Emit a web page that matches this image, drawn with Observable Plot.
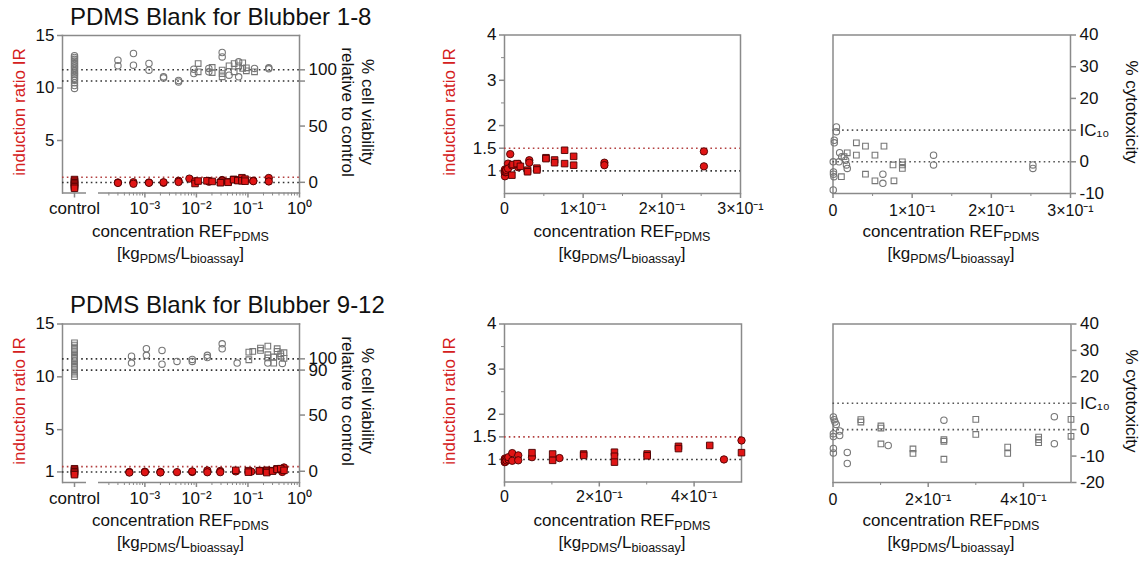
<!DOCTYPE html>
<html><head><meta charset="utf-8">
<script src="https://cdn.jsdelivr.net/npm/d3@7"></script>
<script src="https://cdn.jsdelivr.net/npm/@observablehq/plot@0.6"></script>
<style>
body{margin:0;background:#fff;}
#wrap{position:relative;width:1148px;height:566px;overflow:hidden;font-family:"Liberation Sans",Arial,sans-serif;color:#111;background:#fff;}
#wrap svg{position:absolute;left:0;top:0;}
.t{position:absolute;white-space:nowrap;line-height:1;}
.title{font-size:24px;}
.xl{font-size:17px;transform:translateX(-50%);}
.yl{font-size:17px;transform:translate(-50%,-50%) rotate(-90deg);color:#d42020;}
.yr{font-size:17px;transform:translate(-50%,-50%) rotate(90deg);text-align:center;line-height:20px;}
sub{font-size:12.5px;vertical-align:-4px;line-height:0;}
</style></head><body><div id="wrap"></div>
<script>
// ---------------- data ----------------
const ctrlCategory = ["control"];
// PDMS Blank for Blubber 1-8 (top row)
const topCtrlIR = [1.28, 1.12, 0.98, 0.85, 0.72, 0.58, 0.45];
const topCtrlViab = [112.5, 111, 109.3, 107.8, 106.2, 104.8, 103.2, 101.8, 100.3, 98.8, 97.2, 95.8, 94.2, 92.6, 90.8, 88.5, 86, 83.5];
const topIRcircles = [[0.0003,1.00],[0.0003,0.96],[0.0006,1.03],[0.0006,0.88],[0.0012,1.00],[0.0012,0.97],[0.0023,0.98],[0.0023,1.02],[0.0045,1.16],[0.0045,1.05],[0.0073,1.37],[0.0094,1.12],[0.0174,1.15],[0.0174,1.08],[0.0315,1.235],[0.0315,1.18],[0.127,1.18],[0.127,1.125],[0.2535,1.43],[0.2535,1.10]];
const topIRsquares = [[0.0094,0.905],[0.0108,1.14],[0.016,1.16],[0.0202,1.10],[0.0293,1.015],[0.0293,0.98],[0.0412,1.06],[0.0412,1.02],[0.0527,1.29],[0.0527,1.27],[0.0637,1.24],[0.0637,1.18],[0.0764,1.455],[0.0764,1.16],[0.0879,1.32],[0.0879,1.125]];
const topViabCircles = [[0.0003,108.5],[0.0003,103.6],[0.0006,114.5],[0.0006,104.1],[0.0012,105.6],[0.0012,99.7],[0.0023,93.8],[0.0023,92.8],[0.0045,90.5],[0.0045,89.2],[0.0089,100.5],[0.0089,96.7],[0.0174,101.2],[0.0174,98.2],[0.0316,115.4],[0.0316,111.5],[0.043,95.2],[0.066,107.1],[0.066,93.8],[0.134,101.2],[0.2535,101.8],[0.2535,100.9]];
const topViabSquares = [[0.0108,105.6],[0.0108,98.2],[0.0202,102.1],[0.0202,97.6],[0.0316,99.7],[0.0316,96.7],[0.0316,93.8],[0.043,103.6],[0.054,105.6],[0.054,98.2],[0.066,103.6],[0.079,106.2],[0.079,101.2],[0.093,101.8],[0.093,99.1],[0.134,98.2]];
const topCytoCircles = [[0.0003,0],[0.0003,-8.9],[0.0006,-3.2],[0.0006,-3.9],[0.0012,-4.7],[0.0016,6.8],[0.0016,6.0],[0.0043,11.0],[0.0043,9.5],[0.0076,0],[0.0084,2.85],[0.011,1.6],[0.016,0.5],[0.017,-1.0],[0.018,-2.1],[0.063,-3.9],[0.063,-6.8],[0.127,2.1],[0.127,-1.0],[0.2525,-1.0],[0.2525,-2.1]];
const topCytoSquares = [[0.0106,-4.7],[0.014,1.6],[0.018,2.85],[0.0295,6.0],[0.0295,2.1],[0.041,4.95],[0.041,-3.9],[0.053,2.1],[0.053,-6.0],[0.0644,4.95],[0.0758,-1.0],[0.077,-6.0],[0.0876,0.0],[0.0876,-1.0],[0.0876,-2.1]];
// PDMS Blank for Blubber 9-12 (bottom row)
const botCtrlIR = [1.3, 1.16, 1.02, 0.88, 0.74];
const botCtrlViab = [114.3, 112.2, 110.4, 108.3, 106.5, 104.2, 102.4, 100.3, 98.5, 96.2, 94.4, 92.3, 90.5, 88.2, 86.4, 84.1];
const botIRcircles = [[0.0005,1.00],[0.0005,0.94],[0.001,1.02],[0.001,0.97],[0.002,1.00],[0.002,0.95],[0.0042,0.98],[0.0083,1.00],[0.0083,1.05],[0.0163,1.14],[0.0163,0.97],[0.029,1.09],[0.029,0.98],[0.058,1.05],[0.116,1.03],[0.463,1.00],[0.5,1.42]];
const botIRsquares = [[0.058,1.15],[0.1016,1.12],[0.1016,0.98],[0.167,1.12],[0.167,1.09],[0.232,1.16],[0.232,1.07],[0.232,0.94],[0.301,1.12],[0.301,1.08],[0.367,1.29],[0.367,1.24],[0.433,1.31],[0.5,1.15]];
const botViabCircles = [[0.00055,102.4],[0.00055,96.2],[0.00107,109],[0.00107,103.1],[0.00215,107.5],[0.00215,95.3],[0.0042,97.7],[0.0083,99.5],[0.0083,97.7],[0.0163,103.1],[0.0163,101.1],[0.0316,113.4],[0.0316,109],[0.0617,96.2],[0.243,96.2],[0.465,95.9]];
const botViabSquares = [[0.104,106],[0.104,99.2],[0.124,106.6],[0.175,109.6],[0.175,107.5],[0.243,111.3],[0.243,103.7],[0.243,100.8],[0.316,101.7],[0.316,96.2],[0.369,109],[0.369,106.6],[0.433,104.5],[0.433,102.4],[0.5,105.5],[0.5,100.4]];
const botCytoCircles = [[0.0008,4.8],[0.0025,3.8],[0.0042,2.9],[0.0069,2.0],[0.014,-0.5],[0.014,-2.2],[0.0008,-1.5],[0.0008,-2.6],[0.0008,-7.1],[0.0008,-8.8],[0.030,-8.6],[0.030,-12.8],[0.116,-6.0],[0.233,3.6],[0.465,4.9],[0.465,-5.3]];
const botCytoSquares = [[0.0585,3.8],[0.0585,2.9],[0.1007,1.4],[0.1007,0.6],[0.1007,-5.4],[0.168,-7.3],[0.168,-9.0],[0.233,-3.8],[0.233,-4.4],[0.233,-11.2],[0.300,3.9],[0.300,-1.8],[0.367,-6.6],[0.367,-9.0],[0.432,-2.8],[0.432,-3.8],[0.432,-4.9],[0.5,3.9],[0.5,-2.5]];
// reference lines
const irLines = [1];          // black dotted
const irThreshold = [1.5];    // red dotted
const viabLines = [90, 100];
const cytoLines = [0, 10];
// ticks and tick labels
const logTicks = [1e-3, 1e-2, 1e-1, 1];
const logTickLabels = ["10⁻³", "10⁻²", "10⁻¹", "10⁰"];
const linTicksTop = [0, 0.1, 0.2, 0.3];
const linTickLabelsTop = ["0", "1×10⁻¹", "2×10⁻¹", "3×10⁻¹"];
const linMinorTop = [0.05, 0.15, 0.25];
const linTicksBot = [0, 0.2, 0.4];
const linTickLabelsBot = ["0", "2×10⁻¹", "4×10⁻¹"];
const linMinorBot = [0.1, 0.3];
const irTicksTop = [5, 10, 15];
const irTicksBot = [1, 5, 10, 15];
const viabTicksTop = [0, 50, 90, 100];
const viabTickLabelsTop = ["0", "50", "", "100"];
const viabTicksBot = [0, 50, 90, 100];
const viabTickLabelsBot = ["0", "50", "90", "100"];
const irZoomTicks = [1, 1.5, 2, 3, 4];
const irZoomTickLabels = ["1", "1.5", "2", "3", "4"];
const irZoomMinor = [2.5, 3.5];
const cytoTicksTop = [-10, 0, 10, 20, 30, 40];
const cytoTicksBot = [-20, -10, 0, 10, 20, 30, 40];
const cytoLabel = v => v === 10 ? "IC₁₀" : String(v);
const titles = ["PDMS Blank for Blubber 1-8", "PDMS Blank for Blubber 9-12"];

// ---------------- drawing ----------------
const W = 1148, H = 566;
const wrap = document.getElementById("wrap");
const GRAY = "#8a8a8a", PT = "#777", RED = "#e01515", REDS = "#4a0000", DOT = "#333", REDDOT = "#b34040";
const FONT = '"Liberation Sans", Arial, sans-serif';

function layer(box, opts) {
  const [l, r, t, b] = box;
  const svg = Plot.plot({
    width: W, height: H,
    marginLeft: l, marginRight: W - r, marginTop: t, marginBottom: H - b,
    style: {background: "transparent", fontFamily: FONT, fontSize: "16px", color: "#111", overflow: "visible"},
    ...opts
  });
  wrap.appendChild(svg);
}
const fmtMap = (ticks, labels) => { const m = new Map(ticks.map((t, i) => [t, labels[i]])); return d => m.get(d); };
const grayDots = (data, symbol) => Plot.dot(data, {x: d => d[0], y: d => d[1], symbol, r: 3.2, stroke: PT, strokeWidth: 1.1, fill: "none"});
const redDots = (data, symbol) => Plot.dot(data, {x: d => d[0], y: d => d[1], symbol, r: 3.7, fill: RED, stroke: REDS, strokeWidth: 0.9});
const dotted = (vals, color) => Plot.ruleY(vals, {stroke: color, strokeWidth: 1.6, strokeDasharray: "1.6,3.2"});

const logMinor = [];
for (let e = -4; e <= -1; e++) for (let k = 2; k <= 9; k++) { const v = k * Math.pow(10, e); if (v > Math.pow(10, -3.9)) logMinor.push(v); }

function logPanel(row) {
  const isTop = row === 0;
  const t = isTop ? 35 : 323.5, b = isTop ? 192.5 : 482;
  const full = [62, 299, t, b], ctrl = [62, 86, t, b], lg = [98, 299, t, b];
  const irY = {domain: [0, 15]};
  const viabY = {domain: isTop ? [-9.5, 130.5] : [-10, 131]};
  const logX = {type: "log", domain: [Math.pow(10, -3.9), 1]};
  const ctrlX = {type: "band", domain: ctrlCategory, padding: 0};
  const ctrlIR = isTop ? topCtrlIR : botCtrlIR, ctrlViab = isTop ? topCtrlViab : botCtrlViab;
  layer(full, {y: irY, marks: [
    Plot.frame({anchor: "left", stroke: GRAY, strokeWidth: 1.5}),
    Plot.frame({anchor: "top", stroke: GRAY, strokeWidth: 1.5}),
    Plot.frame({anchor: "right", stroke: GRAY, strokeWidth: 1.5}),
    dotted(irThreshold, REDDOT), dotted(irLines, DOT),
    Plot.axisY({anchor: "left", ticks: isTop ? irTicksTop : irTicksBot, tickFormat: d => String(d), tickSize: 5, tickPadding: 3, stroke: GRAY, strokeWidth: 1.5, fill: "#111", fontSize: 17, label: null})
  ]});
  layer(full, {y: viabY, marks: [
    dotted(viabLines, DOT),
    Plot.axisY({anchor: "right", ticks: isTop ? viabTicksTop : viabTicksBot, tickFormat: fmtMap(isTop ? viabTicksTop : viabTicksBot, isTop ? viabTickLabelsTop : viabTickLabelsBot), tickSize: 5, tickPadding: 4, stroke: GRAY, strokeWidth: 1.5, fill: "#111", fontSize: 17, label: null})
  ]});
  layer(ctrl, {x: {...ctrlX, axis: null}, y: {...viabY, axis: null}, marks: [
    Plot.dot(ctrlViab, {x: () => ctrlCategory[0], y: d => d, symbol: isTop ? "circle" : "square", r: 3.2, stroke: PT, strokeWidth: 1.1, fill: "none"})
  ]});
  layer(lg, {x: {...logX, axis: null}, y: {...viabY, axis: null}, marks: [
    grayDots(isTop ? topViabCircles : botViabCircles, "circle"),
    grayDots(isTop ? topViabSquares : botViabSquares, "square")
  ]});
  layer(ctrl, {x: ctrlX, y: {...irY, axis: null}, marks: [
    Plot.ruleY([0], {stroke: GRAY, strokeWidth: 1.5}),
    Plot.axisX({anchor: "bottom", ticks: ctrlCategory, tickSize: 5, tickPadding: 4, stroke: GRAY, strokeWidth: 1.5, fill: "#111", fontSize: 17, label: null}),
    Plot.dot(ctrlIR, {x: () => ctrlCategory[0], y: d => d, symbol: "square", r: 3.7, fill: RED, stroke: REDS, strokeWidth: 0.9})
  ]});
  layer(lg, {x: logX, y: {...irY, axis: null}, marks: [
    Plot.ruleY([0], {stroke: GRAY, strokeWidth: 1.5}),
    Plot.axisX({anchor: "bottom", ticks: logMinor, tickSize: 3, stroke: GRAY, text: null, label: null}),
    Plot.axisX({anchor: "bottom", ticks: logTicks, tickFormat: fmtMap(logTicks, logTickLabels), tickSize: 5, tickPadding: 4, stroke: GRAY, strokeWidth: 1.5, fill: "#111", fontSize: 17, label: null}),
    redDots(isTop ? topIRcircles : botIRcircles, "circle"),
    redDots(isTop ? topIRsquares : botIRsquares, "square")
  ]});
}

function irPanel(row) {
  const isTop = row === 0;
  const box = isTop ? [504, 740, 34.5, 193] : [504, 741, 323.5, 481.5];
  const ticks = isTop ? linTicksTop : linTicksBot, labels = isTop ? linTickLabelsTop : linTickLabelsBot, minor = isTop ? linMinorTop : linMinorBot;
  layer(box, {x: {domain: [0, isTop ? 0.3 : 0.5]}, y: {domain: [0.5, 4]}, marks: [
    Plot.frame({stroke: GRAY, strokeWidth: 1.5}),
    dotted(irThreshold, REDDOT), dotted(irLines, DOT),
    Plot.axisY({anchor: "left", ticks: irZoomMinor, tickSize: 3, stroke: GRAY, text: null, label: null}),
    Plot.axisY({anchor: "left", ticks: irZoomTicks, tickFormat: fmtMap(irZoomTicks, irZoomTickLabels), tickSize: 5, tickPadding: 3, stroke: GRAY, strokeWidth: 1.5, fill: "#111", fontSize: 17, label: null}),
    Plot.axisX({anchor: "bottom", ticks: minor, tickSize: 3, stroke: GRAY, text: null, label: null}),
    Plot.axisX({anchor: "bottom", ticks, tickFormat: fmtMap(ticks, labels), tickSize: 5, tickPadding: 4, stroke: GRAY, strokeWidth: 1.5, fill: "#111", label: null}),
    redDots(isTop ? topIRcircles : botIRcircles, "circle"),
    redDots(isTop ? topIRsquares : botIRsquares, "square")
  ]});
}

function cytoPanel(row) {
  const isTop = row === 0;
  const box = isTop ? [832.5, 1070, 34.5, 193] : [832.5, 1070.5, 323.5, 482];
  const ticks = isTop ? linTicksTop : linTicksBot, labels = isTop ? linTickLabelsTop : linTickLabelsBot, minor = isTop ? linMinorTop : linMinorBot;
  layer(box, {x: {domain: [0, isTop ? 0.3 : 0.5]}, y: {domain: isTop ? [-10, 40] : [-20, 40]}, marks: [
    Plot.frame({stroke: GRAY, strokeWidth: 1.5}),
    Plot.ruleY(cytoLines, {stroke: "#555", strokeWidth: 1.6, strokeDasharray: "1.6,3.2"}),
    Plot.axisY({anchor: "right", ticks: isTop ? cytoTicksTop : cytoTicksBot, tickFormat: cytoLabel, tickSize: 5, tickPadding: 4, stroke: GRAY, strokeWidth: 1.5, fill: "#111", fontSize: 17, label: null}),
    Plot.axisX({anchor: "bottom", ticks: minor, tickSize: 3, stroke: GRAY, text: null, label: null}),
    Plot.axisX({anchor: "bottom", ticks, tickFormat: fmtMap(ticks, labels), tickSize: 5, tickPadding: 6, stroke: GRAY, strokeWidth: 1.5, fill: "#111", label: null}),
    grayDots(isTop ? topCytoCircles : botCytoCircles, "circle"),
    grayDots(isTop ? topCytoSquares : botCytoSquares, "square")
  ]});
}

[0, 1].forEach(r => { logPanel(r); irPanel(r); cytoPanel(r); });

// ---------------- text ----------------
function txt(html, cls, x, y) {
  const d = document.createElement("div");
  d.className = "t " + cls; d.style.left = x + "px"; d.style.top = y + "px"; d.innerHTML = html;
  wrap.appendChild(d);
}
const xTitle1 = "concentration REF<sub>PDMS</sub>";
const xTitle2 = "[kg<sub>PDMS</sub>/L<sub>bioassay</sub>]";
txt(titles[0], "title", 70, 5);
txt(titles[1], "title", 70, 293);
[[0, 223, 245], [1, 512, 534]].forEach(([r, y1, y2]) => {
  const cy = r === 0 ? 112 : 401;
  [180.5, 622, 951].forEach(cx => { txt(xTitle1, "xl", cx, y1); txt(xTitle2, "xl", cx, y2); });
  txt("induction ratio IR", "yl", 18.5, cy);
  txt("induction ratio IR", "yl", 449, cy);
  txt("% cell viability<br>relative to control", "yr", 357, cy);
  txt("% cytotoxicity", "yr", 1131, cy);
});
</script></body></html>
